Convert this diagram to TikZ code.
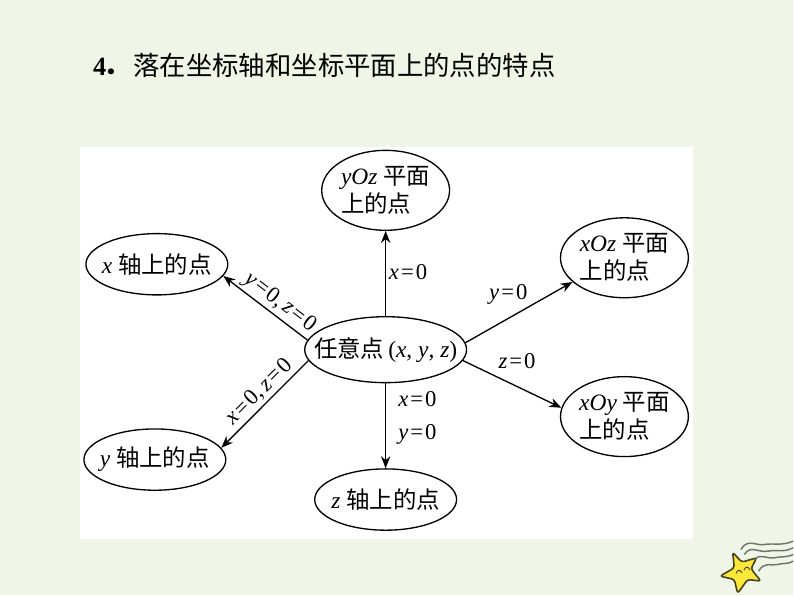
\documentclass[tikz,border=0pt]{standalone}
\usepackage{fontspec}
\setmainfont{Liberation Serif}
\newfontfamily\cjk{Noto Sans CJK SC}
\usetikzlibrary{shapes.geometric}
\usetikzlibrary{arrows.meta}
\definecolor{pagebg}{HTML}{EFF5E7}
\definecolor{stary}{HTML}{FCE83A}
\definecolor{starl}{HTML}{45431F}
\definecolor{trail}{HTML}{6E746E}
\newcommand{\eqz}[1]{\textit{#1}\kern1.5pt=\kern1.5pt0}
\tikzset{
  oval/.style={draw, ellipse, line width=1pt, inner sep=-40pt, align=left, font=\fontsize{17.6}{21}\selectfont},
  arr/.style={-{Stealth[length=9pt,width=7pt]}, line width=1pt},
  lbl/.style={inner sep=2pt, font=\fontsize{17}{20}\selectfont},
}
\begin{document}
\begin{tikzpicture}[x=.75pt,y=-.75pt]
\fill[pagebg] (0,0) rectangle (794,596);
\fill[white] (80,147) rectangle (694,539);
\node[anchor=west, inner sep=0pt, font=\fontsize{19.8}{24}\selectfont] (title) at (93,65)
  {\textbf{4}\hspace{-2pt}{\cjk\bfseries．}\hspace{2.5pt}{\cjk 落在坐标轴和坐标平面上的点的特点}};
\node[oval, minimum width=121.5pt, minimum height=49.5pt] (ctr) at (386,350) {{\cjk 任意点}\,(\textit{x}, \textit{y}, \textit{z})};
\node[oval, minimum width=96pt, minimum height=60pt] (yoz) at (386,190.5) {\textit{yOz} {\cjk 平面}\\{\cjk 上的点}};
\node[oval, minimum width=96pt, minimum height=60pt] (xoz) at (625,258) {\textit{xOz} {\cjk 平面}\\{\cjk 上的点}};
\node[oval, minimum width=96pt, minimum height=60pt] (xoy) at (625,417) {\textit{xOy} {\cjk 平面}\\{\cjk 上的点}};
\node[oval, minimum width=106.5pt, minimum height=46pt] (xpt) at (157,264.5) {\textit{x} {\cjk 轴上的点}};
\node[oval, minimum width=106.5pt, minimum height=46pt] (ypt) at (155,460) {\textit{y} {\cjk 轴上的点}};
\node[oval, minimum width=106.5pt, minimum height=46pt] (zpt) at (386,500) {\textit{z} {\cjk 轴上的点}};
\draw[arr] (ctr.north) -- node[lbl, pos=.52, right] {\eqz{x}} (yoz.south);
\draw[arr] (ctr.south) -- node[lbl, pos=.19, right, xshift=7pt] {\eqz{x}} node[lbl, pos=.6, right, xshift=7pt] {\eqz{y}} (zpt.north);
\draw[arr] (ctr.173) -- node[lbl, pos=.42, sloped, above] {\eqz{y},\,\eqz{z}} (xpt.-10.7);
\draw[arr] (ctr.188.7) -- node[lbl, pos=.46, sloped, above] {\eqz{x},\,\eqz{z}} (ypt.10);
\draw[arr] (ctr.5.7) -- node[lbl, pos=.4, above, yshift=8pt] {\eqz{y}} (xoz.205);
\draw[arr] (ctr.-8.9) -- node[lbl, pos=.55, above, yshift=11pt] {\eqz{z}} (xoy.172);
% star
\begin{scope}[shift={(700,530)},x=.25pt,y=-.25pt]
\draw[trail, line width=1.1pt] (125,60) .. controls (145,25) and (170,50) .. (195,45) .. controls (225,40) and (245,50) .. (282,35);
\draw[trail, line width=1.1pt] (135,75) .. controls (155,45) and (175,70) .. (205,65) .. controls (235,60) and (250,70) .. (282,55);
\draw[trail, line width=1.1pt] (165,90) .. controls (185,70) and (205,90) .. (225,85) .. controls (245,80) and (260,85) .. (282,75);
\draw[trail, line width=1.1pt] (178,125) .. controls (195,95) and (215,110) .. (235,105) .. controls (250,100) and (265,105) .. (282,95);
\draw[starl, fill=stary, line width=1.2pt, rounded corners=2pt, line join=round]
  (100,68) -- (127,98) -- (172,85) -- (155,118) -- (185,155) -- (145,150) -- (115,192) -- (105,150) -- (62,140) -- (105,115) -- cycle;
\draw[starl, line width=.7pt] (110,132) .. controls (114,120) and (124,120) .. (128,130);
\draw[starl, line width=.7pt] (134,122) .. controls (138,110) and (148,110) .. (152,122);
\end{scope}
\end{tikzpicture}
\end{document}
